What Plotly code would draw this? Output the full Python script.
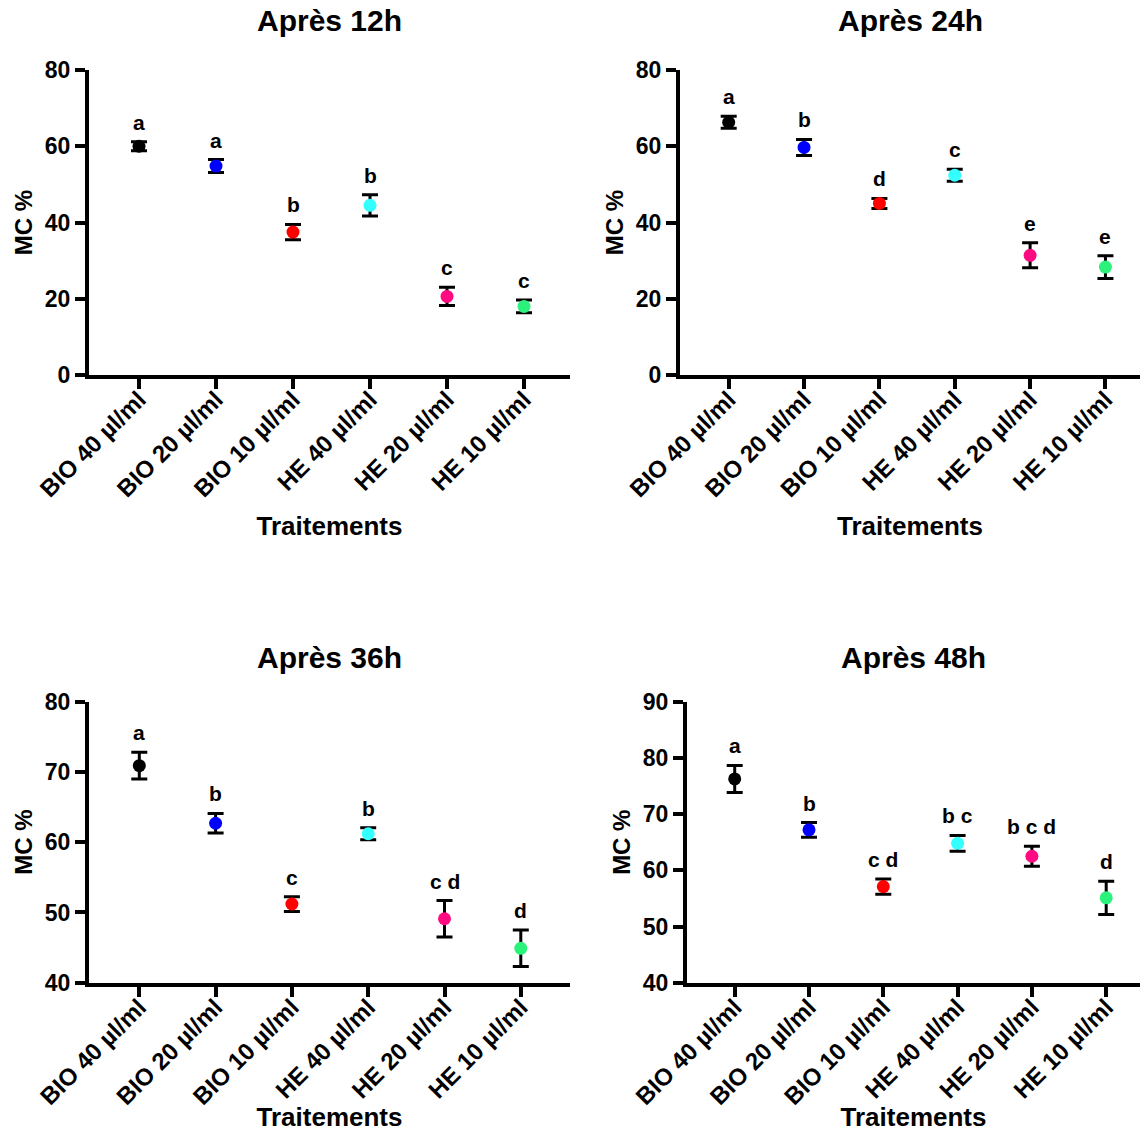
import plotly.graph_objects as go

categories = ["BIO 40 µl/ml", "BIO 20 µl/ml", "BIO 10 µl/ml", "HE 40 µl/ml", "HE 20 µl/ml", "HE 10 µl/ml"]
colors = ["#000000", "#0000FF", "#FF0000", "#33FFFF", "#FF0A80", "#2BF27A"]

titles = ["Après 12h", "Après 24h", "Après 36h", "Après 48h"]

mean_12h = [60.0, 54.8, 37.5, 44.5, 20.6, 18.0]
err_12h = [1.2, 1.7, 2.0, 2.8, 2.4, 1.7]
letters_12h = ["a", "a", "b", "b", "c", "c"]

mean_24h = [66.3, 59.7, 45.0, 52.4, 31.4, 28.3]
err_24h = [1.6, 2.1, 1.3, 1.6, 3.3, 3.0]
letters_24h = ["a", "b", "d", "c", "e", "e"]

mean_36h = [70.9, 62.7, 51.2, 61.2, 49.1, 44.9]
err_36h = [1.9, 1.4, 1.05, 0.85, 2.6, 2.6]
letters_36h = ["a", "b", "c", "b", "c d", "d"]

mean_48h = [76.25, 67.2, 57.1, 64.8, 62.5, 55.1]
err_48h = [2.4, 1.3, 1.35, 1.4, 1.8, 2.95]
letters_48h = ["a", "b", "c d", "b c", "b c d", "d"]

y_ranges = [[0, 80], [0, 80], [40, 80], [40, 90]]
y_dtick = [20, 20, 10, 10]

W, H = 1142, 1132
FONT = "Liberation Sans, Arial, sans-serif"

# panel geometry in screen pixels: left, right, top, bottom, first tick x, tick spacing
panels = [
    dict(l=89, r=570, t=70, b=375, t0=139.0, dx=77.0, ty=20),
    dict(l=680, r=1140, t=70, b=375, t0=728.7, dx=75.35, ty=20),
    dict(l=89, r=570, t=701.7, b=982.7, t0=139.3, dx=76.3, ty=657),
    dict(l=687, r=1140, t=701.7, b=982.7, t0=734.7, dx=74.3, ty=657),
]

means = [mean_12h, mean_24h, mean_36h, mean_48h]
errs = [err_12h, err_24h, err_36h, err_48h]
letters = [letters_12h, letters_24h, letters_36h, letters_48h]


def px(x):
    return x / W


def py(y):
    return 1 - y / H


fig = go.Figure()
annotations = []
layout = {}
for i, p in enumerate(panels):
    n = "" if i == 0 else str(i + 1)
    xa, ya = "x" + n, "y" + n
    fig.add_trace(go.Scatter(
        x=categories, y=means[i], mode="markers",
        marker=dict(color=colors, size=13, line=dict(width=0)),
        error_y=dict(type="data", array=errs[i], visible=True, color="black", thickness=3, width=8),
        xaxis=xa, yaxis=ya, showlegend=False, cliponaxis=False,
    ))
    xd = [px(p["l"]), px(p["r"])]
    yd = [py(p["b"]), py(p["t"])]
    xr = [-(p["t0"] - p["l"]) / p["dx"], (p["r"] - p["t0"]) / p["dx"]]
    layout["xaxis" + n] = dict(
        domain=xd, anchor=ya, type="category", range=xr, automargin=False,
        showline=True, linewidth=4, linecolor="black", mirror=False,
        ticks="outside", ticklen=10, tickwidth=3.5, tickcolor="black",
        tickangle=-45, showgrid=False, zeroline=False, ticklabelstandoff=-13,
        tickfont=dict(family=FONT, size=24, color="black", weight="bold"),
        title=dict(text="Traitements", standoff=16,
                   font=dict(family=FONT, size=26, color="black", weight="bold")),
    )
    layout["yaxis" + n] = dict(
        domain=yd, anchor=xa, range=y_ranges[i], dtick=y_dtick[i], automargin=False,
        showline=True, linewidth=4, linecolor="black",
        ticks="outside", ticklen=10, tickwidth=3.5, tickcolor="black",
        showgrid=False, zeroline=False,
        tickfont=dict(family=FONT, size=23, color="black", weight="bold"),
        title=dict(text="MC %", standoff=6,
                   font=dict(family=FONT, size=24, color="black", weight="bold")),
    )
    for c, m, e, lt in zip(categories, means[i], errs[i], letters[i]):
        annotations.append(dict(
            x=c, y=m + e, xref=xa, yref=ya, text=lt, showarrow=False,
            yanchor="bottom", yshift=6,
            font=dict(family=FONT, size=21, color="black", weight="bold"),
        ))
    annotations.append(dict(
        x=(xd[0] + xd[1]) / 2, y=py(p["ty"]),
        xref="paper", yref="paper", text=titles[i], showarrow=False,
        xanchor="center", yanchor="middle",
        font=dict(family=FONT, size=30, color="black", weight="bold"),
    ))

fig.update_layout(
    width=W, height=H, autosize=False,
    margin=dict(l=0, r=0, t=0, b=0, autoexpand=False),
    paper_bgcolor="white", plot_bgcolor="white",
    annotations=annotations, **layout,
)

fig.write_html("out.html", config={"displayModeBar": False},
               post_script="document.body.style.margin='0px';")
